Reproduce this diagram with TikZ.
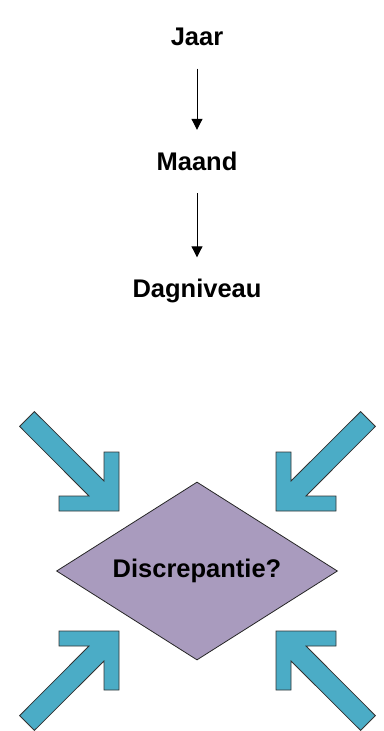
\documentclass[tikz,border=0pt]{standalone}
\usepackage{fontspec}
\setmainfont{Liberation Sans}
\usetikzlibrary{arrows.meta,shapes.geometric}
\definecolor{arrowblue}{HTML}{4BACC6}
\definecolor{lavender}{HTML}{A99BBE}
\tikzset{
    level/.style={font=\fontsize{25.5}{30}\selectfont\bfseries,inner sep=0pt,
        text height=18pt,text depth=0pt},
    down/.style={line width=1pt,-{Triangle[width=11pt,length=11pt]},
        shorten <=23pt,shorten >=22pt},
    blockarrow/.style={fill=arrowblue,draw=black!80,line width=0.8pt,line join=miter}
}
\begin{document}
\begin{tikzpicture}[x=1pt,y=-1pt]
        \useasboundingbox (0,0) rectangle (383,731);
        %% Levels
        \node[level] (jaar) at (197,36.5) {Jaar};
        \node[level] (maand) at (197,161) {Maand};
        \node[level] (dag) at (197,288.5) {Dagniveau};
        \draw[down] (jaar) -- (maand);
        \draw[down] (maand) -- (dag);
        %% Diamond
        \node[diamond,aspect=1.58,draw=black!85,line width=0.8pt,fill=lavender,
            minimum width=281pt,minimum height=178pt,inner sep=0pt,
            font=\fontsize{25.5}{30}\selectfont\bfseries]
            (disc) at (197,571) {Discrepantie?};
        %% Arrows pointing at the diamond
        \foreach \cx/\cy/\sx/\sy in {119/511/1/1, 276/511/-1/1,
                                     119/631/1/-1, 276/631/-1/-1}
            \draw[blockarrow,shift={(\cx,\cy)},xscale=\sx,yscale=\sy]
                (0,0) -- (-60,0) -- (-60,-15) -- (-30,-15)
                -- (-99.4,-84.6) -- (-84.6,-99.4) -- (-15,-30)
                -- (-15,-59) -- (0,-59) -- cycle;
    \end{tikzpicture}
\end{document}
